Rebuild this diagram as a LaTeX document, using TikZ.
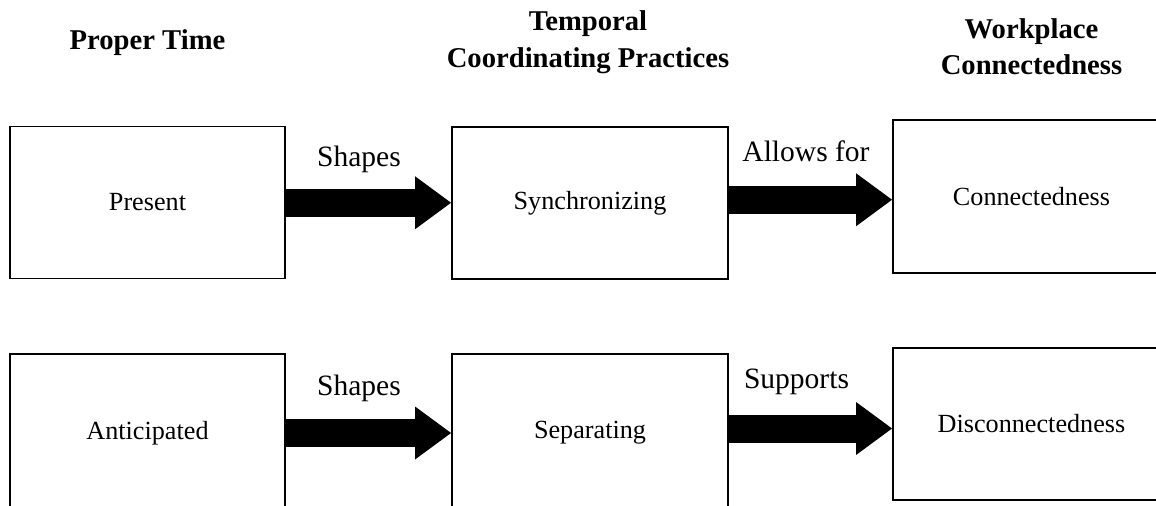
\documentclass[tikz,border=0pt]{standalone}
\usepackage{fontspec}
\setmainfont{Liberation Serif}
\usetikzlibrary{calc}
\usetikzlibrary{arrows.meta}

\begin{document}
\begin{tikzpicture}[
    box/.style={rectangle, draw=black, line width=1.1pt, minimum width=5.5cm, minimum height=3.04cm, inner sep=0pt, font=\fontsize{14.9}{18}\selectfont},
    head/.style={align=center, inner sep=0pt, font=\fontsize{16.3}{20.8}\selectfont\bfseries},
    verb/.style={anchor=base, inner sep=0pt, font=\fontsize{16.8}{20}\selectfont},
    bigarrow/.style={line width=0.56cm, -{Triangle[length=0.72cm, width=1.06cm, line width=0pt]}}
]
    \path[use as bounding box, clip] (0,0) rectangle (23.12,10.1);

    % --- Column headings ---
    \node[head, anchor=base] (Hp) at (2.95, 9.11) {Proper Time};
    \node[head] (Ht) at (11.76, 9.26) {Temporal\\Coordinating Practices};
    \node[head] (Hw) at (20.63, 9.17) {Workplace\\Connectedness};

    % --- Row 1: Present -> Synchronizing -> Connectedness ---
    \node[box] (Pr) at (2.95, 6.05) {Present};
    \node[box, minimum width=5.52cm] (Sy) at (11.8, 6.04) {Synchronizing};
    \node[box, minimum width=5.54cm, minimum height=3.06cm] (Co) at (20.63, 6.17) {Connectedness};

    % --- Row 2: Anticipated -> Separating -> Disconnectedness ---
    \node[box, minimum height=3.16cm] (An) at (2.95, 1.44) {Anticipated};
    \node[box, minimum width=5.52cm, minimum height=3.16cm] (Se) at (11.8, 1.44) {Separating};
    \node[box, minimum width=5.54cm] (Di) at (20.63, 1.62) {Disconnectedness};

    % --- Arrows (row 1) ---
    \draw[bigarrow] ($(Pr.east)!.5!(Pr.east |- Sy.west)$) -- ($(Pr.east -| Sy.west)!.5!(Sy.west)$);
    \draw[bigarrow] ($(Sy.east)!.5!(Sy.east |- Co.west)$) -- ($(Sy.east -| Co.west)!.5!(Co.west)$);
    \node[verb] (L1) at (7.18, 6.77) {Shapes};
    \node[verb] (L2) at (16.12, 6.87) {Allows for};

    % --- Arrows (row 2) ---
    \draw[bigarrow] ($(An.east)!.5!(An.east |- Se.west)$) -- ($(An.east -| Se.west)!.5!(Se.west)$);
    \draw[bigarrow] ($(Se.east)!.5!(Se.east |- Di.west)$) -- ($(Se.east -| Di.west)!.5!(Di.west)$);
    \node[verb] (L3) at (7.18, 2.19) {Shapes};
    \node[verb] (L4) at (15.93, 2.33) {Supports};

\end{tikzpicture}
\end{document}
